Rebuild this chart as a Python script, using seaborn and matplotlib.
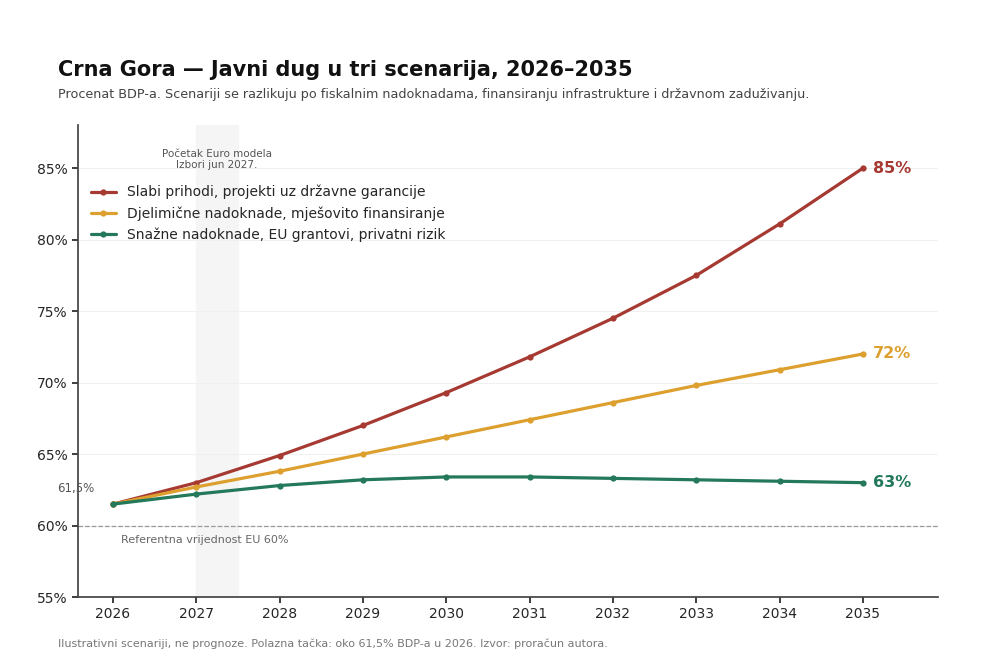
import matplotlib
matplotlib.use("Agg")
import matplotlib.pyplot as plt
import seaborn as sns
import pandas as pd

sns.set_theme(style="white")
plt.rcParams['font.family'] = ['DejaVu Sans']

years = list(range(2026, 2036))
slabi = [61.5, 63.0, 64.9, 67.0, 69.3, 71.8, 74.5, 77.5, 81.1, 85.0]
djelimicne = [61.5, 62.7, 63.8, 65.0, 66.2, 67.4, 68.6, 69.8, 70.9, 72.0]
snazne = [61.5, 62.2, 62.8, 63.2, 63.4, 63.4, 63.3, 63.2, 63.1, 63.0]
names = ["Slabi prihodi, projekti uz državne garancije",
         "Djelimične nadoknade, mješovito finansiranje",
         "Snažne nadoknade, EU grantovi, privatni rizik"]
colors = ["#a63a32", "#dd9f2e", "#23795a"]
ends = ["85%", "72%", "63%"]

df = pd.concat([pd.DataFrame({"year": years, "v": s, "sc": n})
                for s, n in zip([slabi, djelimicne, snazne], names)])

fig = plt.figure(figsize=(10, 6.59), dpi=100)
ax = fig.add_axes([0.078, 0.094, 0.86, 0.716])
sns.lineplot(data=df, x="year", y="v", hue="sc", palette=colors, marker="o",
             markersize=4.5, markeredgewidth=0, linewidth=2.3, ax=ax)
ax.set_xlim(2025.58, 2035.9)
ax.set_ylim(55, 88)
ax.set_xticks(years)
ax.set_yticks([55, 60, 65, 70, 75, 80, 85])
ax.set_yticklabels([f"{v}%" for v in [55, 60, 65, 70, 75, 80, 85]])
ax.set_xlabel(""); ax.set_ylabel("")
ax.tick_params(axis="both", labelsize=10, length=4, left=True, bottom=True)
for s in ["top", "right"]:
    ax.spines[s].set_visible(False)
for s in ["left", "bottom"]:
    ax.spines[s].set_color("#444444")
ax.grid(axis="y", color="#f0f0f0", linewidth=0.8)
ax.axvspan(2027, 2027.5, color="#f5f5f5", zorder=0)
ax.text(2027.25, 85.6, "Početak Euro modela\nIzbori jun 2027.", ha="center", va="center",
        fontsize=7.5, color="#555555")
ax.axhline(60, color="#999999", linestyle="--", linewidth=0.9)
ax.text(2026.1, 58.8, "Referentna vrijednost EU 60%", fontsize=8, color="#666666")
ax.text(2025.55, 62.35, "61,5%", fontsize=8.5, color="#555555", ha="center")
for s, c, t in zip([slabi, djelimicne, snazne], colors, ends):
    ax.text(2035.12, s[-1], t, color=c, fontsize=11.5, fontweight="bold", va="center")
ax.legend(loc="upper left", bbox_to_anchor=(0.0, 0.90), frameon=False, fontsize=10,
          handlelength=1.8, labelspacing=0.5)
fig.text(0.058, 0.885, "Crna Gora — Javni dug u tri scenarija, 2026–2035",
         fontsize=15, fontweight="bold", color="#111111")
fig.text(0.058, 0.852, "Procenat BDP-a. Scenariji se razlikuju po fiskalnim nadoknadama, finansiranju infrastrukture i državnom zaduživanju.",
         fontsize=9.2, color="#444444")
fig.text(0.058, 0.018, "Ilustrativni scenariji, ne prognoze. Polazna tačka: oko 61,5% BDP-a u 2026. Izvor: proračun autora.",
         fontsize=8, color="#777777")
fig.savefig("out.png", dpi=100)
